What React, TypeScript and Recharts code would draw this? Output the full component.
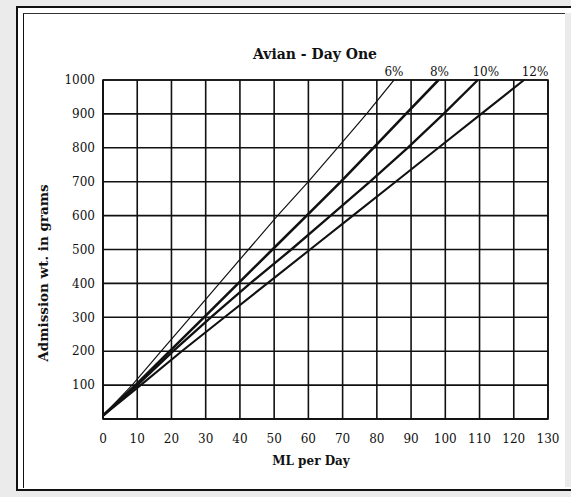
import React from 'react';
import { LineChart, Line, XAxis, YAxis, CartesianGrid, ReferenceArea } from 'recharts';

// admission weight (g) read at each grid row, and ML per day for each curve
const weights = [10, 100, 200, 300, 400, 500, 600, 700, 800, 900, 1000];
const ml6 = [0, 8.5, 17, 25.5, 34, 42.5, 51, 60, 68.5, 77, 85];
const ml8 = [0, 9.5, 19.5, 29.5, 39.5, 49.5, 59.5, 69.5, 79, 88.5, 98];
const ml10 = [0, 10, 20.5, 31.5, 43, 55, 66.5, 78, 89, 99.5, 109.5];
const ml12 = [0, 11, 23, 35.5, 48, 60.5, 73, 85.5, 98, 110.5, 123];
const seriesNames = ['6%', '8%', '10%', '12%'];

const xTicks = [0, 10, 20, 30, 40, 50, 60, 70, 80, 90, 100, 110, 120, 130];
const yTicks = [100, 200, 300, 400, 500, 600, 700, 800, 900, 1000];

const toRows = (ml: number[]) => ml.map((v, i) => ({ ml: v, wt: weights[i] }));

const series = [
  { name: seriesNames[0], data: toRows(ml6), width: 1.2, dx: 0 },
  { name: seriesNames[1], data: toRows(ml8), width: 2.6, dx: 1 },
  { name: seriesNames[2], data: toRows(ml10), width: 2.3, dx: 8 },
  { name: seriesNames[3], data: toRows(ml12), width: 2.1, dx: 11 },
];

const serif = '"DejaVu Serif", "Liberation Serif", serif';

const EndLabel = (name: string, last: number, dx: number) => (props: any) => {
  const { x, y, index } = props;
  if (index !== last) return null;
  return (
    <text x={x + dx} y={y - 4} textAnchor="middle" fontFamily={serif} fontSize={12} fill="#111">
      {name}
    </text>
  );
};

const App: React.FC = () => {
  return (
    <div style={{ position: 'absolute', left: 0, top: 0, width: 571, height: 497, background: '#ebebeb', overflow: 'hidden' }}>
      <div
        style={{
          position: 'absolute',
          left: 16,
          top: 6,
          width: 555,
          height: 481,
          background: '#fff',
          borderLeft: '2px solid #111',
          borderTop: '2px solid #111',
          borderBottom: '2px solid #111',
        }}
      />
      <div style={{ position: 'absolute', left: 23, top: 13, width: 1, height: 475, background: '#111' }} />
      <div style={{ position: 'absolute', left: 23, top: 13, width: 542, height: 1, background: '#333' }} />
      <div style={{ position: 'absolute', left: 565, top: 13, width: 6, height: 474, background: '#ebebeb' }} />
      <div
        style={{
          position: 'absolute',
          left: 190,
          top: 46,
          width: 250,
          textAlign: 'center',
          fontFamily: serif,
          fontWeight: 'bold',
          fontSize: 14,
          color: '#111',
        }}
      >
        Avian - Day One
      </div>
      <div
        style={{
          position: 'absolute',
          left: 226,
          top: 454,
          width: 170,
          textAlign: 'center',
          fontFamily: serif,
          fontWeight: 'bold',
          fontSize: 12,
          color: '#111',
        }}
      >
        ML per Day
      </div>
      <div
        style={{
          position: 'absolute',
          left: 43 - 110,
          top: 273,
          width: 220,
          textAlign: 'center',
          transform: 'translateY(-50%) rotate(-90deg)',
          fontFamily: serif,
          fontWeight: 'bold',
          fontSize: 13.5,
          color: '#111',
        }}
      >
        Admission wt. in grams
      </div>
      <div style={{ position: 'absolute', left: 0, top: 0 }}>
        <LineChart width={571} height={497} margin={{ top: 80, right: 23, bottom: 48, left: 43 }}>
          <ReferenceArea x1={0} x2={130} y1={0} y2={1000} fill="none" stroke="#111" strokeWidth={1.6} />
          <CartesianGrid stroke="#111" strokeWidth={1.6} strokeOpacity={1} />
          <XAxis
            type="number"
            dataKey="ml"
            domain={[0, 130]}
            ticks={xTicks}
            allowDataOverflow
            tickLine={false}
            axisLine={{ stroke: '#111', strokeWidth: 1.6 }}
            tick={{ fontFamily: serif, fontSize: 12, fill: '#111' }}
            tickMargin={9}
            height={30}
          />
          <YAxis
            type="number"
            dataKey="wt"
            domain={[0, 1000]}
            ticks={yTicks}
            allowDataOverflow
            tickLine={false}
            axisLine={{ stroke: '#111', strokeWidth: 1.6 }}
            tick={{ fontFamily: serif, fontSize: 12, fill: '#111' }}
            tickMargin={2}
            width={60}
          />
          {series.map((s) => (
            <Line
              key={s.name}
              data={s.data}
              dataKey="wt"
              name={s.name}
              type="linear"
              stroke="#111"
              strokeWidth={s.width}
              dot={false}
              activeDot={false}
              isAnimationActive={false}
              label={EndLabel(s.name, s.data.length - 1, s.dx)}
            />
          ))}
        </LineChart>
      </div>
    </div>
  );
};

export default App;
